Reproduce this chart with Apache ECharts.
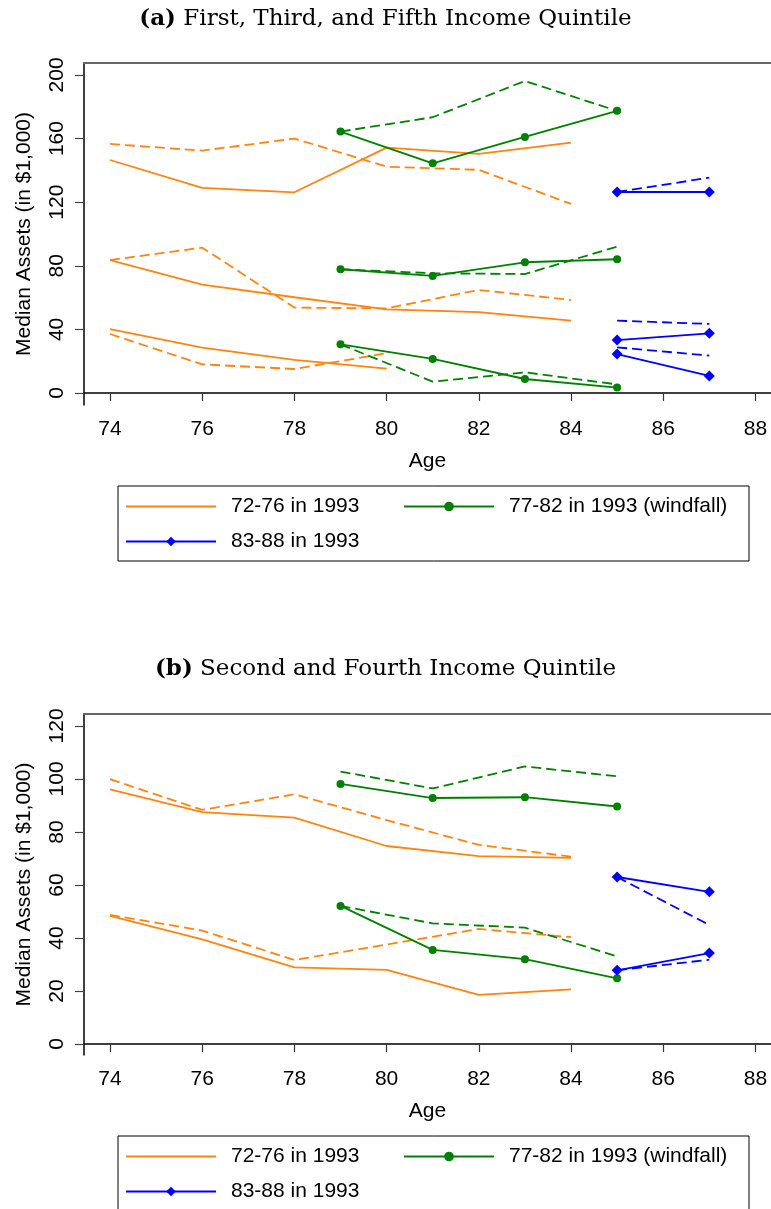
<!DOCTYPE html>
<html lang="en">

<head>
    <meta charset="UTF-8">
    <title>Median Assets by Age</title>
    <script src="https://cdn.jsdelivr.net/npm/echarts@6/dist/echarts.min.js"></script>
    <style>
        html,
        body,
        #chart {
            width: 100%;
            height: 100%;
            margin: 0;
            padding: 0;
            background: #fff;
        }
    </style>
</head>

<body>
    <div id="chart"></div>
    <script>
        // cohorts (age in 1993)
        var cohortNames = ['72-76 in 1993', '77-82 in 1993 (windfall)', '83-88 in 1993'];
        var ageTicks = [74, 76, 78, 80, 82, 84, 86, 88];
        var yTicksA = [0, 40, 80, 120, 160, 200];
        var yTicksB = [0, 20, 40, 60, 80, 100, 120];

        var agesOld = [74, 76, 78, 80, 82, 84];
        var agesOldShort = [74, 76, 78, 80];
        var agesMid = [79, 81, 83, 85];
        var agesYoung = [85, 87];

        // panel (a): first, third and fifth quintile
        var aOldTop = [146.5, 129, 126.2, 154.3, 150.3, 157.4];
        var aOldTopDash = [156.6, 152.4, 160, 142.3, 140.3, 118.9];
        var aOldMid = [83.6, 68.1, 60.2, 52.6, 50.8, 45.5];
        var aOldMidDash = [83.6, 91.4, 53.7, 53.2, 64.8, 58.5];
        var aOldLow = [40.2, 28.5, 20.8, 15.3];
        var aOldLowDash = [37.1, 18, 15.1, 25];

        var aMidTop = [164.4, 144.4, 161, 177.4];
        var aMidTopDash = [164.4, 173.4, 196.2, 177.4];
        var aMidMid = [77.8, 73.6, 82.2, 84.1];
        var aMidMidDash = [77.8, 75.3, 74.8, 92];
        var aMidLow = [30.6, 21.4, 8.8, 3.4];
        var aMidLowDash = [30.6, 7.1, 13, 5.4];

        var aYoungTop = [126.4, 126.4];
        var aYoungTopDash = [126.4, 135.4];
        var aYoungMid = [33.3, 37.5];
        var aYoungMidDash = [45.5, 43.4];
        var aYoungLow = [24.5, 10.7];
        var aYoungLowDash = [28.7, 23.5];

        // panel (b): second and fourth quintile
        var bOldTop = [96.1, 87.5, 85.4, 74.7, 70.9, 70.2];
        var bOldTopDash = [99.9, 88.3, 94.2, 84.5, 75.1, 70.7];
        var bOldLow = [48.3, 39.5, 28.9, 28, 18.5, 20.6];
        var bOldLowDash = [48.7, 42.8, 31.7, 37.5, 43.4, 40.3];

        var bMidTop = [98.1, 92.8, 93.1, 89.6];
        var bMidTopDash = [102.8, 96.4, 104.7, 101];
        var bMidLow = [52.1, 35.5, 32, 24.8];
        var bMidLowDash = [52.1, 45.5, 43.9, 33];

        var bYoungTop = [63, 57.4];
        var bYoungTopDash = [63, 44.9];
        var bYoungLow = [27.8, 34.3];
        var bYoungLowDash = [27.8, 31.8];

        var ORANGE = '#ff8410';
        var GREEN = '#008000';
        var BLUE = '#0000ff';
        var SANS = 'Liberation Sans, Arial, sans-serif';
        var SERIF = 'DejaVu Serif, serif';
        var X_MIN = 73.436;
        var X_MAX = 88.338;

        function pairs(xs, ys) {
            return xs.map(function(x, i) {
                return [x, ys[i]];
            });
        }

        function line(name, gridIdx, xs, ys, color, dashed, symbol, size) {
            return {
                name: name,
                type: 'line',
                xAxisIndex: gridIdx,
                yAxisIndex: gridIdx,
                data: pairs(xs, ys),
                symbol: dashed ? 'none' : symbol,
                symbolSize: size,
                showSymbol: !dashed && symbol !== 'none',
                itemStyle: { color: color },
                lineStyle: {
                    color: color,
                    width: 1.8,
                    type: dashed ? [10, 5] : 'solid'
                },
                silent: true,
                animation: false
            };
        }

        function cohort(idx, gridIdx, xs, solid, dash) {
            var color = [ORANGE, GREEN, BLUE][idx];
            var symbol = ['none', 'circle', 'diamond'][idx];
            var size = [0, 8, 11][idx];
            return [
                line(cohortNames[idx], gridIdx, xs, solid, color, false, symbol, size),
                line(cohortNames[idx], gridIdx, xs, dash, color, true, symbol, size)
            ];
        }

        function xAxis(gridIdx) {
            return {
                type: 'value',
                gridIndex: gridIdx,
                min: X_MIN,
                max: X_MAX,
                name: 'Age',
                nameLocation: 'middle',
                nameGap: 46,
                nameTextStyle: { fontFamily: SANS, fontSize: 21, color: '#000' },
                splitLine: { show: false },
                axisLine: { lineStyle: { color: '#000', width: 1.5 } },
                axisTick: { customValues: ageTicks, length: 8, lineStyle: { color: '#333', width: 1.2 } },
                axisLabel: { customValues: ageTicks, margin: 14, fontFamily: SANS, fontSize: 21, color: '#000' }
            };
        }

        // top frame line of each plot region
        function topFrame(gridIdx) {
            return {
                type: 'value',
                gridIndex: gridIdx,
                position: 'top',
                min: X_MIN,
                max: X_MAX,
                splitLine: { show: false },
                axisLine: { show: true, lineStyle: { color: '#666', width: 2 } },
                axisTick: { show: false },
                axisLabel: { show: false }
            };
        }

        function yAxis(gridIdx, min, max, ticks) {
            return {
                type: 'value',
                gridIndex: gridIdx,
                min: min,
                max: max,
                name: 'Median Assets (in $1,000)',
                nameLocation: 'middle',
                nameRotate: 90,
                nameGap: 49,
                nameTextStyle: { fontFamily: SANS, fontSize: 21, color: '#000' },
                splitLine: { show: false },
                axisLine: { show: true, lineStyle: { color: '#000', width: 1.5 } },
                axisTick: { customValues: ticks, length: 9, lineStyle: { color: '#444', width: 1.2 } },
                axisLabel: {
                    customValues: ticks,
                    rotate: 90,
                    margin: 16,
                    fontFamily: SANS,
                    fontSize: 21,
                    color: '#000'
                }
            };
        }

        function legend(top, padBottom) {
            return {
                data: [
                    { name: cohortNames[0], itemStyle: { opacity: 0 } },
                    { name: cohortNames[1] },
                    { name: cohortNames[2] }
                ],
                left: 118,
                top: top,
                orient: 'horizontal',
                width: 615,
                padding: [10, 11, padBottom, 7],
                itemWidth: 90,
                itemHeight: 12,
                itemGap: 14,
                borderColor: '#000',
                borderWidth: 1,
                selectedMode: false,
                formatter: function(name) {
                    return name === cohortNames[1] ? '{w|' + name + '}' : '{n|' + name + '}';
                },
                textStyle: {
                    fontFamily: SANS,
                    fontSize: 21,
                    color: '#000',
                    rich: {
                        n: { width: 158, padding: [0, 0, 0, 10], fontFamily: SANS, fontSize: 21, lineHeight: 20 },
                        w: { width: 229, padding: [0, 0, 0, 10], fontFamily: SANS, fontSize: 21, lineHeight: 20 }
                    }
                }
            };
        }

        var series = []
            .concat(cohort(0, 0, agesOld, aOldTop, aOldTopDash))
            .concat(cohort(0, 0, agesOld, aOldMid, aOldMidDash))
            .concat(cohort(0, 0, agesOldShort, aOldLow, aOldLowDash))
            .concat(cohort(1, 0, agesMid, aMidTop, aMidTopDash))
            .concat(cohort(1, 0, agesMid, aMidMid, aMidMidDash))
            .concat(cohort(1, 0, agesMid, aMidLow, aMidLowDash))
            .concat(cohort(2, 0, agesYoung, aYoungTop, aYoungTopDash))
            .concat(cohort(2, 0, agesYoung, aYoungMid, aYoungMidDash))
            .concat(cohort(2, 0, agesYoung, aYoungLow, aYoungLowDash))
            .concat(cohort(0, 1, agesOld, bOldTop, bOldTopDash))
            .concat(cohort(0, 1, agesOld, bOldLow, bOldLowDash))
            .concat(cohort(1, 1, agesMid, bMidTop, bMidTopDash))
            .concat(cohort(1, 1, agesMid, bMidLow, bMidLowDash))
            .concat(cohort(2, 1, agesYoung, bYoungTop, bYoungTopDash))
            .concat(cohort(2, 1, agesYoung, bYoungLow, bYoungLowDash));

        var titleStyle = {
            fontFamily: SERIF,
            fontSize: 23,
            fontWeight: 'normal',
            color: '#000',
            rich: {
                b: { fontFamily: SERIF, fontSize: 23, fontWeight: 'bold' }
            }
        };

        var chart = echarts.init(document.getElementById('chart'), null, { renderer: 'canvas' });
        chart.setOption({
            backgroundColor: '#fff',
            animation: false,
            title: [{
                text: '{b|(a)} First, Third, and Fifth Income Quintile',
                left: 'center',
                top: 3,
                textStyle: titleStyle
            }, {
                text: '{b|(b)} Second and Fourth Income Quintile',
                left: 'center',
                top: 653,
                textStyle: titleStyle
            }],
            legend: [legend(486, 9), legend(1136, 12)],
            grid: [{
                left: 84,
                top: 63,
                right: 0,
                height: 342
            }, {
                left: 84,
                top: 714,
                right: 0,
                height: 341
            }],
            xAxis: [xAxis(0), xAxis(1), topFrame(0), topFrame(1)],
            yAxis: [yAxis(0, -7.55, 207.5, yTicksA), yAxis(1, -4.15, 124.5, yTicksB)],
            series: series
        });
    </script>
</body>

</html>
